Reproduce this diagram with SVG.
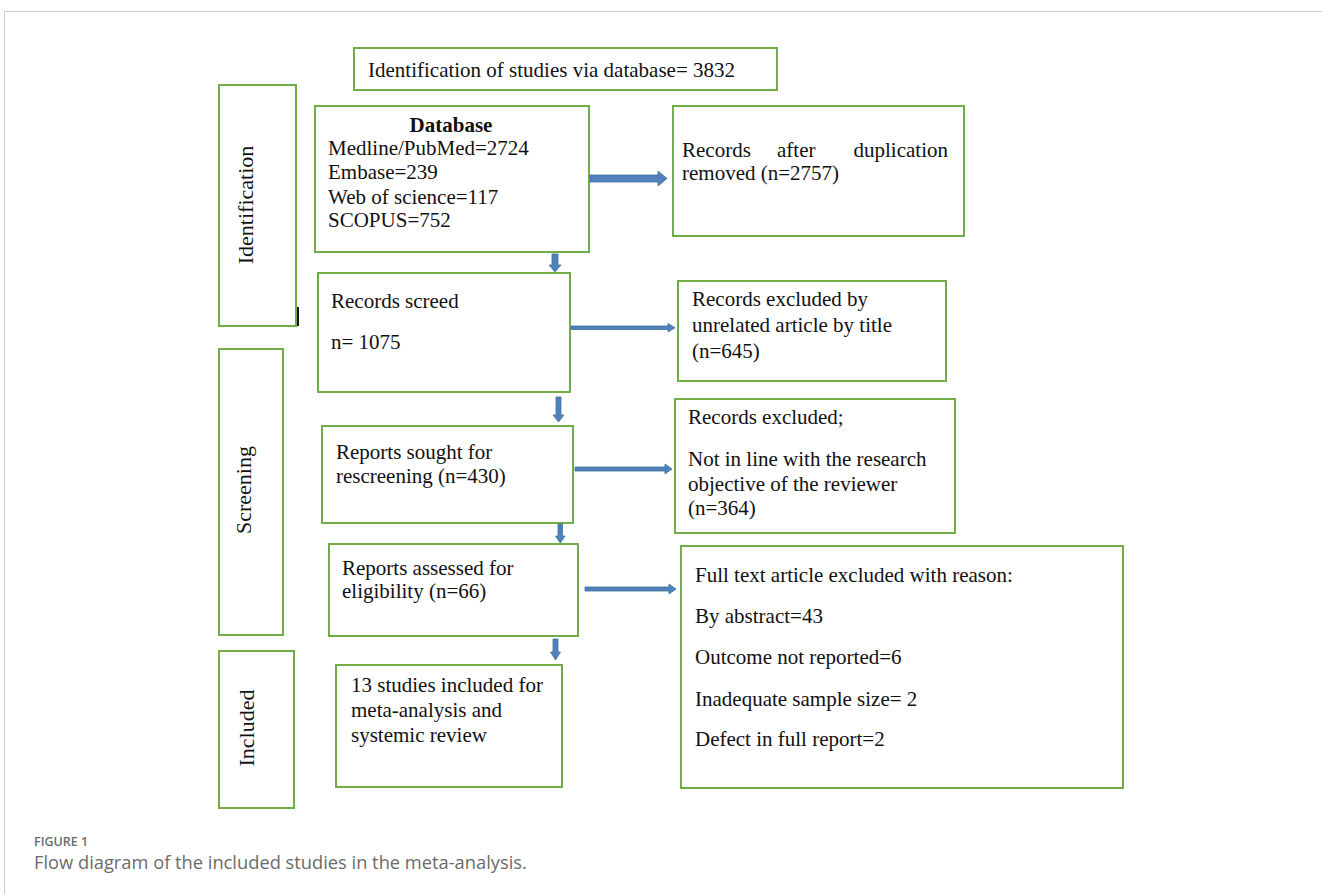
<svg xmlns="http://www.w3.org/2000/svg" width="1322" height="894" viewBox="0 0 1322 894">
<style>
.box{fill:#fff;stroke:#70ad47;stroke-width:2}
.t{font-family:"Liberation Serif","Times New Roman",serif;font-size:21px;fill:#111}
.side{font-family:"Liberation Serif","Times New Roman",serif;font-size:22px;fill:#111}
.arr{fill:#4f81bd;stroke:#41719c;stroke-width:0.8}
.cap1{font-family:"Open Sans","Liberation Sans",sans-serif;font-size:12.5px;font-weight:600;fill:#6b6b6b}
.cap2{font-family:"Open Sans","Liberation Sans",sans-serif;font-size:18.3px;fill:#6b6b6b}
</style>
<rect width="1322" height="894" fill="#fff"/>
<path d="M4.5,894 V11.5 H1322" fill="none" stroke="#cccccc" stroke-width="1"/>

<g id="title">
<rect class="box" x="354" y="48" width="423" height="42"/>
<text class="t" x="368" y="77">Identification of studies via database= 3832</text>
</g>

<g id="phase-identification">
<rect class="box" x="219" y="85" width="77" height="241"/>
<text class="side" transform="translate(253,205) rotate(-90)" text-anchor="middle">Identification</text>
</g>
<line id="tick" x1="298" y1="307" x2="298" y2="326" stroke="#111" stroke-width="2"/>

<g id="phase-screening">
<rect class="box" x="219" y="349" width="64" height="286"/>
<text class="side" transform="translate(251,490) rotate(-90)" text-anchor="middle">Screening</text>
</g>

<g id="phase-included">
<rect class="box" x="219" y="651" width="75" height="157"/>
<text class="side" transform="translate(254,728) rotate(-90)" text-anchor="middle">Included</text>
</g>

<g id="database">
<rect class="box" x="315" y="106" width="274" height="146"/>
<text class="t" x="451" y="132" text-anchor="middle" font-weight="bold">Database</text>
<text class="t" x="328" y="155">Medline/PubMed=2724</text>
<text class="t" x="328" y="179">Embase=239</text>
<text class="t" x="328" y="204">Web of science=117</text>
<text class="t" x="328" y="227">SCOPUS=752</text>
</g>

<g id="after-dup">
<rect class="box" x="673" y="106" width="291" height="130"/>
<text class="t" x="682" y="157">Records</text>
<text class="t" x="777" y="157">after</text>
<text class="t" x="948" y="157" text-anchor="end">duplication</text>
<text class="t" x="682" y="180">removed (n=2757)</text>
</g>

<g id="screened">
<rect class="box" x="318" y="273" width="252" height="119"/>
<text class="t" x="331" y="308">Records screed</text>
<text class="t" x="331" y="349">n= 1075</text>
</g>

<g id="excluded-title">
<rect class="box" x="678" y="281" width="268" height="100"/>
<text class="t" x="692" y="306">Records excluded by</text>
<text class="t" x="692" y="332">unrelated article by title</text>
<text class="t" x="692" y="358">(n=645)</text>
</g>

<g id="sought">
<rect class="box" x="322" y="426" width="251" height="97"/>
<text class="t" x="336" y="459">Reports sought for</text>
<text class="t" x="336" y="483">rescreening (n=430)</text>
</g>

<g id="excluded-objective">
<rect class="box" x="675" y="399" width="280" height="134"/>
<text class="t" x="688" y="424">Records excluded;</text>
<text class="t" x="688" y="466">Not in line with the research</text>
<text class="t" x="688" y="491">objective of the reviewer</text>
<text class="t" x="688" y="515">(n=364)</text>
</g>

<g id="assessed">
<rect class="box" x="329" y="544" width="249" height="92"/>
<text class="t" x="342" y="575">Reports assessed for</text>
<text class="t" x="342" y="598">eligibility (n=66)</text>
</g>

<g id="fulltext-excluded">
<rect class="box" x="681" y="546" width="442" height="242"/>
<text class="t" x="695" y="582">Full text article excluded with reason:</text>
<text class="t" x="695" y="623">By abstract=43</text>
<text class="t" x="695" y="664">Outcome not reported=6</text>
<text class="t" x="695" y="706">Inadequate sample size= 2</text>
<text class="t" x="695" y="746">Defect in full report=2</text>
</g>

<g id="included">
<rect class="box" x="336" y="665" width="226" height="122"/>
<text class="t" x="351" y="692">13 studies included for</text>
<text class="t" x="351" y="717">meta-analysis and</text>
<text class="t" x="351" y="742">systemic review</text>
</g>

<g id="connectors">
<path class="arr" d="M590,175 H658 V171 L667,178.5 L658,186 V182 H590 Z"/>
<path class="arr" d="M571,326 H668 V323.5 L675,327.75 L668,332 V329.5 H571 Z"/>
<path class="arr" d="M575,467 H665 V464 L672,469 L665,474 V471 H575 Z"/>
<path class="arr" d="M585,587 H669 V584 L676,589 L669,594 V591 H585 Z"/>
<path class="arr" d="M552,254 V265 H549 L555,272 L561,265 H558 V254 Z"/>
<path class="arr" d="M556,397 V415 H553 L558.5,422 L564,415 H561 V397 Z"/>
<path class="arr" d="M558,524 V536 H555.5 L560.25,543 L565,536 H562.5 V524 Z"/>
<path class="arr" d="M553,639 V652 H550.5 L555.5,660 L560.5,652 H558 V639 Z"/>
</g>

<g id="caption">
<text class="cap1" x="34" y="846">FIGURE 1</text>
<text class="cap2" x="34" y="869">Flow diagram of the included studies in the meta-analysis.</text>
</g>
</svg>
